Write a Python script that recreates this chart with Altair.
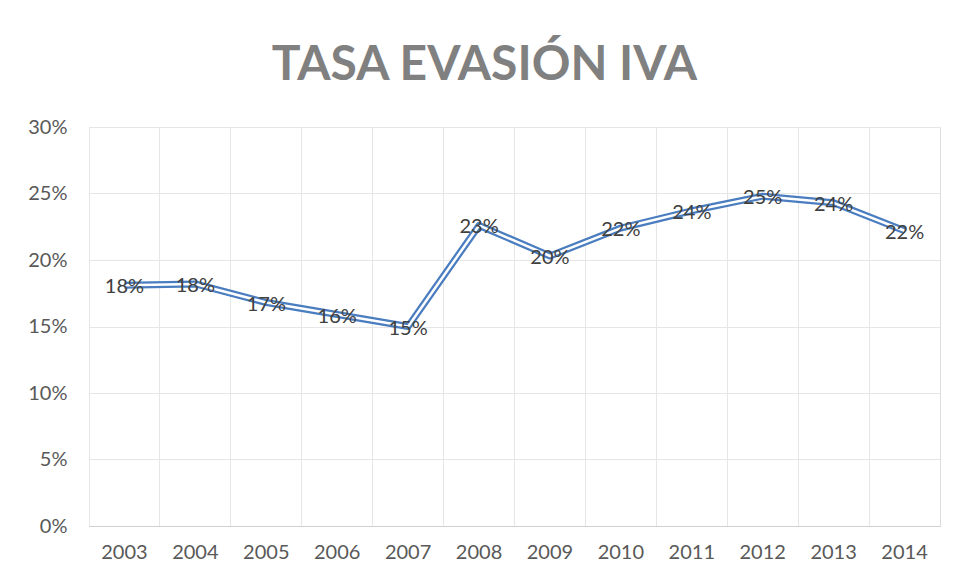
import altair as alt
import pandas as pd

years = ["2003", "2004", "2005", "2006", "2007", "2008",
         "2009", "2010", "2011", "2012", "2013", "2014"]
rates = [0.181, 0.182, 0.168, 0.159, 0.150, 0.226,
         0.203, 0.224, 0.237, 0.248, 0.243, 0.222]

df = pd.DataFrame({"year": years, "rate": rates})

FONT = "Lato"

base = alt.Chart(df).encode(
    x=alt.X("year:O", sort=years, title=None,
            scale=alt.Scale(type="band", paddingInner=0, paddingOuter=0),
            axis=alt.Axis(labelAngle=0, bandPosition=0, grid=True,
                          gridColor="#e6e6e6", ticks=False,
                          domainColor="#d0d0d0", labelPadding=16,
                          labelFontSize=20, labelColor="#595959",
                          labelFont=FONT, labelOffset=0)),
    y=alt.Y("rate:Q", title=None,
            scale=alt.Scale(domain=[0, 0.30], nice=False),
            axis=alt.Axis(format=".0%", values=[0, 0.05, 0.10, 0.15, 0.20, 0.25, 0.30],
                          grid=True, gridColor="#e6e6e6", ticks=False,
                          domain=False, labelPadding=22, labelFontSize=20,
                          labelColor="#595959", labelFont=FONT)),
)

outer = base.mark_line(color="#4a7dbf", strokeWidth=7, strokeJoin="round")
inner = base.mark_line(color="white", strokeWidth=2.5, strokeJoin="round")
labels = base.mark_text(fontSize=20, font=FONT, color="#404040",
                        align="center", baseline="middle", dy=2).encode(
    text=alt.Text("rate:Q", format=".0%"))

chart = alt.layer(outer, inner, labels).properties(
    width=851, height=399,
    title=alt.TitleParams("TASA EVASIÓN IVA", font=FONT, fontSize=48,
                          fontWeight="bold", color="#808080", offset=27,
                          dx=-30, anchor="middle"),
    autosize=alt.AutoSizeParams(type="none"),
    padding={"left": 81, "top": 119, "right": 6, "bottom": 50},
).configure_view(stroke="#e6e6e6").configure(background="white")

chart.save("out.html", embed_options={"renderer": "svg", "actions": False})
